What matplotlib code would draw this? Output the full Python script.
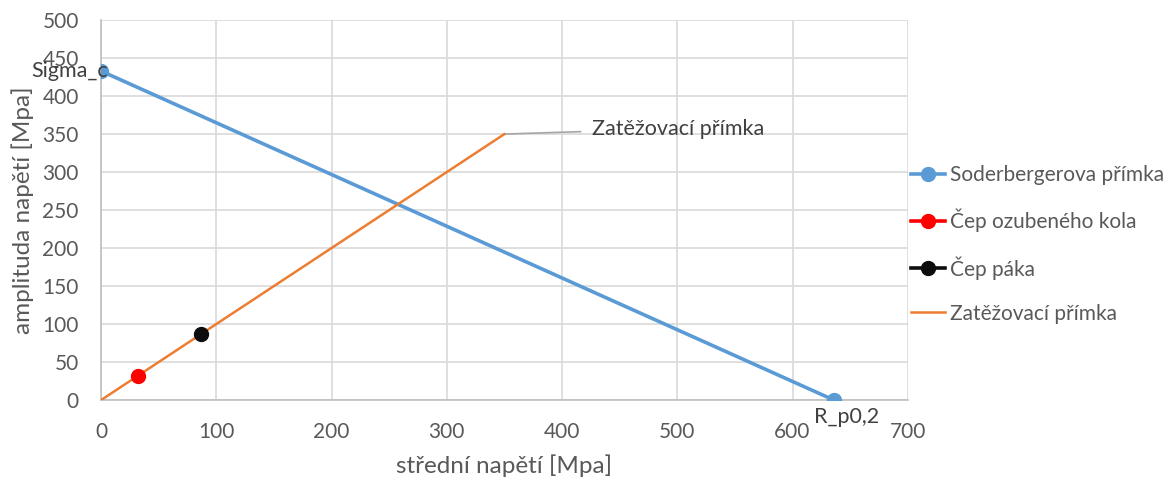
import matplotlib.pyplot as plt

plt.rcParams['font.family'] = ['Lato', 'DejaVu Sans']

# Soderbergova primka
soder_x = [0, 636]
soder_y = [433, 0]
soder_labels = ['Sigma_c', 'R_p0,2']

# zatizene body
cep_kolo_x = [32]
cep_kolo_y = [32]
cep_paka_x = [87]
cep_paka_y = [87]

# zatezovaci primka
zat_x = [0, 350]
zat_y = [0, 350]

text_color = '#595959'
grid_color = '#d9d9d9'

fig = plt.figure(figsize=(11.76, 4.78), dpi=100)
ax = fig.add_axes([0.0859, 0.163, 0.686, 0.795])

ax.plot(soder_x, soder_y, color='#5b9bd5', linewidth=2.6, marker='o',
        markersize=10, label='Soderbergerova přímka', zorder=3)
ax.plot(cep_kolo_x, cep_kolo_y, color='#ff0000', linewidth=2.6, marker='o',
        markersize=10, label='Čep ozubeného kola', zorder=5)
ax.plot(cep_paka_x, cep_paka_y, color='#0d0d0d', linewidth=2.6, marker='o',
        markersize=10, label='Čep páka', zorder=5)
ax.plot(zat_x, zat_y, color='#ed7d31', linewidth=1.8,
        label='Zatěžovací přímka', zorder=4)

# popisky bodu
ax.annotate(soder_labels[0], (soder_x[0], soder_y[0]), xytext=(5, 0),
            textcoords='offset points', ha='right', va='center',
            fontsize=15.5, color='#404040')
ax.annotate(soder_labels[1], (soder_x[1], soder_y[1]), xytext=(9, -5),
            textcoords='offset points', ha='center', va='top',
            fontsize=15.5, color='#404040')
ax.annotate('Zatěžovací přímka', (zat_x[1], zat_y[1]), xytext=(63, 4),
            textcoords='offset points', ha='left', va='center',
            fontsize=15.5, color='#404040',
            arrowprops=dict(arrowstyle='-', color='#a6a6a6', lw=1.2,
                            shrinkA=6, shrinkB=0))

ax.set_xlim(0, 700)
ax.set_ylim(0, 500)
ax.set_xticks(range(0, 701, 100))
ax.set_yticks(range(0, 501, 50))
ax.grid(True, color=grid_color, linewidth=1.2)
ax.set_axisbelow(True)

for s in ['top', 'right']:
    ax.spines[s].set_visible(False)
for s in ['left', 'bottom']:
    ax.spines[s].set_color('#bfbfbf')
    ax.spines[s].set_linewidth(1.2)

ax.tick_params(axis='x', length=0, labelsize=15, labelcolor=text_color, pad=16)
ax.tick_params(axis='y', length=0, labelsize=15, labelcolor=text_color, pad=16)
ax.set_xlabel('střední napětí [Mpa]', fontsize=17.5, color=text_color, labelpad=9)
ax.set_ylabel('amplituda napětí [Mpa]', fontsize=17.5, color=text_color, labelpad=6)

ax.legend(loc='center left', bbox_to_anchor=(0.994, 0.41), frameon=False,
          fontsize=15, labelcolor=text_color, handlelength=1.6,
          handletextpad=0.25, labelspacing=1.15, borderaxespad=0.0)

plt.savefig('out.png', dpi=100)
